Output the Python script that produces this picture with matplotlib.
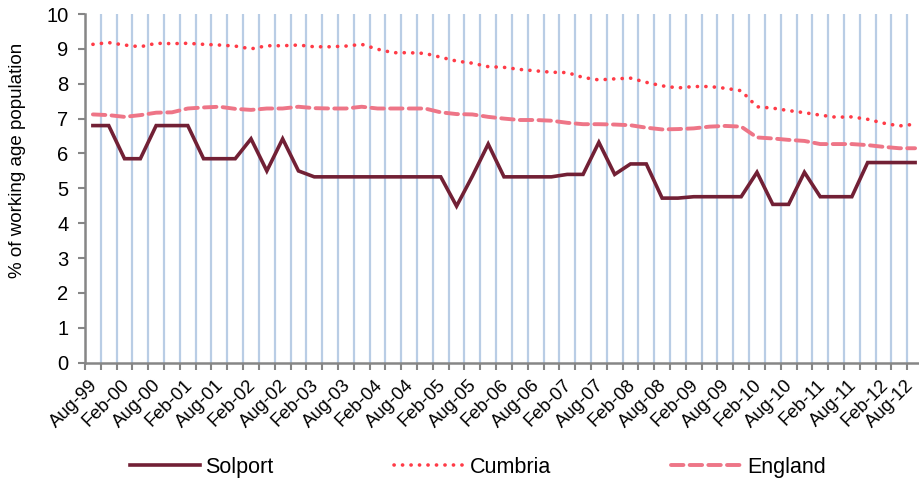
import matplotlib
matplotlib.use("Agg")
import matplotlib.pyplot as plt
import matplotlib.transforms as mtransforms
import numpy as np

plt.rcParams['font.family'] = ['Liberation Sans', 'DejaVu Sans']

# Quarterly categories Aug-99 .. Aug-12 (labels shown every other one)
months = ["Aug", "Nov", "Feb", "May"]
categories = []
yr = 99
for i in range(53):
    m = months[i % 4]
    if m == "Feb" and i > 0:
        yr = (yr + 1) % 100
    categories.append(f"{m}-{yr:02d}")

solport = [6.8, 6.8, 5.85, 5.85, 6.8, 6.8, 6.8, 5.85, 5.85, 5.85,
           6.42, 5.5, 6.42, 5.5, 5.33, 5.33, 5.33, 5.33, 5.33, 5.33,
           5.33, 5.33, 5.33, 4.49, 5.35, 6.27, 5.33, 5.33, 5.33, 5.33,
           5.4, 5.4, 6.32, 5.4, 5.7, 5.7, 4.72, 4.72, 4.76, 4.76,
           4.76, 4.76, 5.46, 4.54, 4.54, 5.46, 4.76, 4.76, 4.76, 5.74,
           5.74, 5.74, 5.74]

cumbria = [9.13, 9.18, 9.11, 9.06, 9.16, 9.15, 9.16, 9.13, 9.11, 9.08,
           9.0, 9.09, 9.09, 9.11, 9.06, 9.06, 9.08, 9.13, 8.99, 8.89,
           8.89, 8.87, 8.76, 8.65, 8.59, 8.49, 8.47, 8.41, 8.37, 8.33,
           8.32, 8.18, 8.11, 8.14, 8.16, 8.04, 7.94, 7.88, 7.92, 7.92,
           7.87, 7.8, 7.34, 7.3, 7.23, 7.17, 7.1, 7.04, 7.05, 6.98,
           6.87, 6.79, 6.84]

england = [7.12, 7.1, 7.05, 7.1, 7.17, 7.18, 7.29, 7.32, 7.34, 7.28,
           7.25, 7.29, 7.29, 7.34, 7.3, 7.29, 7.29, 7.34, 7.29, 7.29,
           7.29, 7.29, 7.18, 7.13, 7.12, 7.05, 7.0, 6.96, 6.96, 6.94,
           6.88, 6.84, 6.84, 6.83, 6.81, 6.74, 6.69, 6.7, 6.72, 6.77,
           6.79, 6.77, 6.46, 6.43, 6.39, 6.36, 6.27, 6.27, 6.27, 6.24,
           6.19, 6.15, 6.15]

y_ticks = list(range(0, 11))

fig = plt.figure(figsize=(9.19, 4.86), dpi=100)
ax = fig.add_axes([85 / 919, (486 - 362.7) / 486, (923 - 85) / 919, (362.7 - 14) / 486])

x = np.arange(len(categories))
grey = "#868686"

# vertical gridlines at category boundaries
bounds = np.arange(-0.5, len(categories) + 0.5, 1.0)
ax.set_xticks(bounds, minor=True)
ax.grid(True, which="minor", axis="x", color="#B9CDE5", linewidth=1.6)
ax.grid(False, which="major")

l1, = ax.plot(x, solport, color="#722035", linewidth=2.6, solid_joinstyle="miter",
              label="Solport", zorder=4)
l2, = ax.plot(x, cumbria, color="#FF3B47", linewidth=2.6, linestyle=(0, (0.05, 2.3)),
              dash_capstyle="round", label="Cumbria", zorder=3)
l3, = ax.plot(x, england, color="#EE7587", linewidth=2.8, linestyle=(0, (3.2, 1.6)),
              dash_capstyle="round", label="England", zorder=3)

ax.set_xlim(-0.5, len(categories) - 0.5)
ax.set_ylim(0, 10)
ax.set_yticks(y_ticks)
ax.set_xticks(x[::2])
ax.set_xticklabels([])
ax.tick_params(axis="x", which="major", length=0)
ax.tick_params(axis="x", which="minor", length=5, width=1.5, color=grey, direction="out")
ax.tick_params(axis="y", length=5, width=1.5, color=grey, labelsize=14.5, pad=7)

# category labels (every other quarter), rotated 45 degrees
label_pos = x[::2]
label_txt = categories[::2]
for k, (xp, txt) in enumerate(zip(label_pos, label_txt)):
    dx = 2 if k < len(label_pos) - 1 else -4
    tr = ax.get_xaxis_transform() + mtransforms.ScaledTranslation(
        dx / 100, -20 / 100, fig.dpi_scale_trans)
    ax.text(xp, 0, txt, transform=tr, rotation=45, ha="right", va="center",
            rotation_mode="anchor", fontsize=13.3, clip_on=False)

for s in ["top", "right"]:
    ax.spines[s].set_visible(False)
for s in ["left", "bottom"]:
    ax.spines[s].set_color(grey)
    ax.spines[s].set_linewidth(1.8)

ax.set_ylabel("% of working age population", fontsize=13.5)
ax.yaxis.set_label_coords(-0.07, 0.58)

fig.legend(handles=[l1, l2, l3], loc="center", bbox_to_anchor=(0.52, 0.039), ncol=3,
           frameon=False, fontsize=15.5, handlelength=3.25, columnspacing=5.6,
           handletextpad=0.25)

fig.savefig("out.png", dpi=100)
